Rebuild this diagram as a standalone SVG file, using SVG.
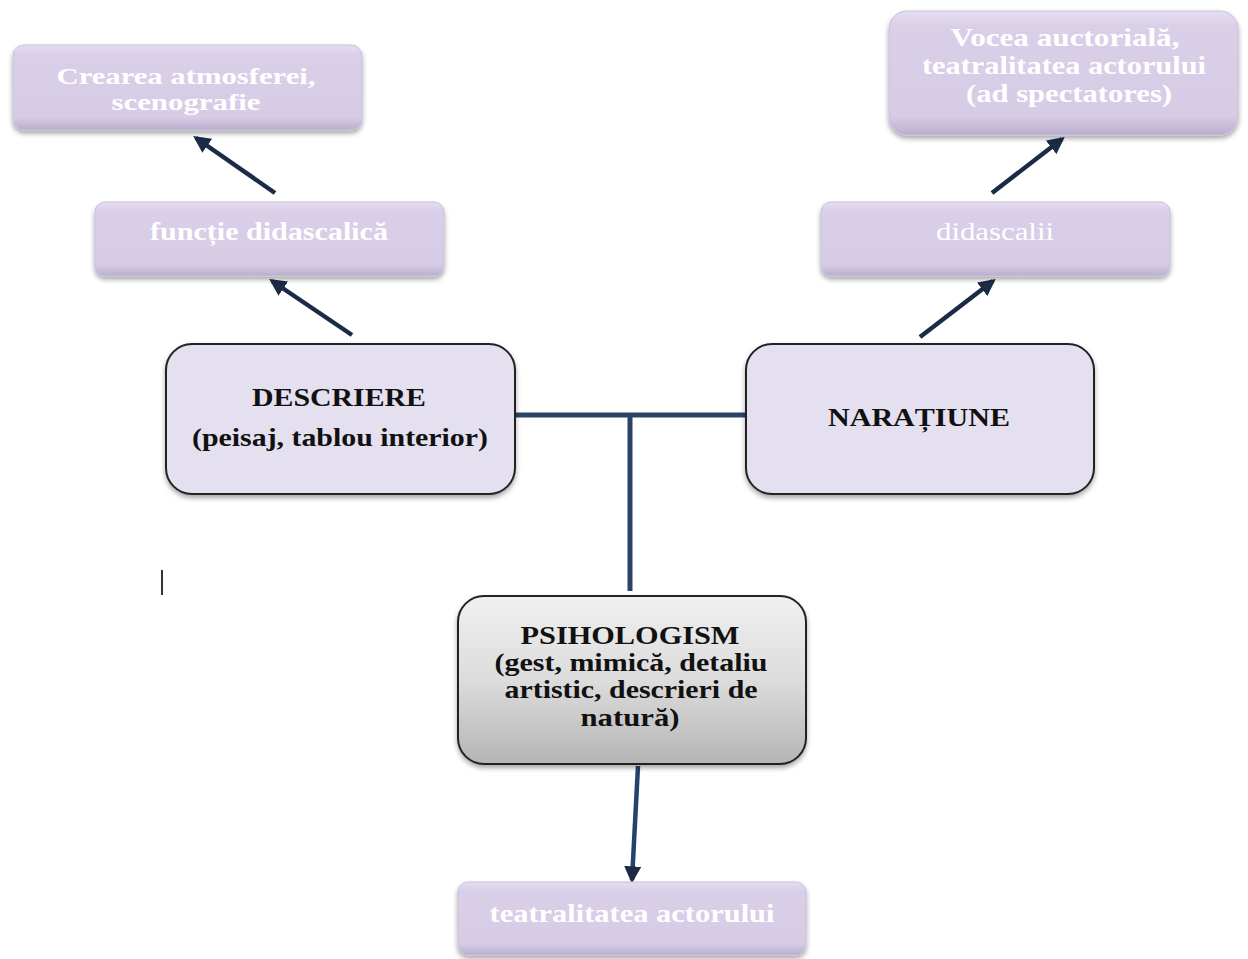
<svg xmlns="http://www.w3.org/2000/svg" width="1248" height="959" viewBox="0 0 1248 959">
<style>
.lav{fill:url(#lavg);stroke:#c9bfdc;stroke-width:1;filter:url(#sh)}
.main{fill:#e5e0ef;stroke:#222;stroke-width:2;filter:url(#sh)}
.gray{fill:url(#grayg);stroke:#222;stroke-width:2;filter:url(#sh)}
.wt{font-family:"Liberation Serif",serif;font-weight:bold;fill:#fff;text-anchor:middle;font-size:26px}
.bt{font-family:"Liberation Serif",serif;font-weight:bold;fill:#111;text-anchor:middle;font-size:26px}
.arr{stroke:#1b2a45;stroke-width:4.5;fill:none;marker-end:url(#ah)}
.ln{stroke:#2b4466;stroke-width:5;fill:none}
</style>
<defs>
<linearGradient id="lavg" x1="0" y1="0" x2="0" y2="1">
<stop offset="0" stop-color="#e6def1"/>
<stop offset="0.12" stop-color="#d9cfe8"/>
<stop offset="0.85" stop-color="#d6cce6"/>
<stop offset="1" stop-color="#b9aecd"/>
</linearGradient>
<linearGradient id="grayg" x1="0" y1="0" x2="0" y2="1">
<stop offset="0" stop-color="#f0f0f0"/>
<stop offset="0.5" stop-color="#dcdcdc"/>
<stop offset="1" stop-color="#b5b5b5"/>
</linearGradient>
<filter id="sh" x="-10%" y="-10%" width="120%" height="130%">
<feDropShadow dx="0" dy="3" stdDeviation="2.5" flood-color="#000" flood-opacity="0.35"/>
</filter>
<marker id="ah" viewBox="0 0 10 10" refX="8" refY="5" markerWidth="3.8" markerHeight="3.8" orient="auto" markerUnits="strokeWidth">
<path d="M0,0 L10,5 L0,10 Z" fill="#1b2a45"/>
</marker>
</defs>

<g id="connectors">
<line class="arr" x1="352" y1="335" x2="272" y2="281"/>
<line class="arr" x1="275" y1="193" x2="196" y2="138"/>
<line class="arr" x1="920" y1="337" x2="993" y2="281"/>
<line class="arr" x1="992" y1="193" x2="1062" y2="139"/>
<line class="ln" x1="515" y1="415" x2="746" y2="415"/>
<line class="ln" x1="630" y1="415" x2="630" y2="591"/>
<line class="arr" x1="638" y1="766" x2="632" y2="880" style="stroke:#24426a"/>
</g>

<g id="node-crearea">
<rect class="lav" x="13" y="45" width="349" height="85" rx="11"/>
<text class="wt" x="186" y="84" style="font-size:24px" textLength="259" lengthAdjust="spacingAndGlyphs">Crearea atmosferei,</text>
<text class="wt" x="186" y="110" style="font-size:24px" textLength="149" lengthAdjust="spacingAndGlyphs">scenografie</text>
</g>

<g id="node-functie">
<rect class="lav" x="95" y="202" width="349" height="74" rx="10"/>
<text class="wt" x="269" y="240" textLength="238" lengthAdjust="spacingAndGlyphs">funcție didascalică</text>
</g>

<g id="node-descriere">
<rect class="main" x="166" y="344" width="349" height="150" rx="26"/>
<text class="bt" x="339" y="406" textLength="174" lengthAdjust="spacingAndGlyphs">DESCRIERE</text>
<text class="bt" x="340" y="446" textLength="296" lengthAdjust="spacingAndGlyphs">(peisaj, tablou interior)</text>
</g>

<g id="node-naratiune">
<rect class="main" x="746" y="344" width="348" height="150" rx="26"/>
<text class="bt" x="919" y="426" textLength="182" lengthAdjust="spacingAndGlyphs">NARAȚIUNE</text>
</g>

<g id="node-vocea">
<rect class="lav" x="889" y="11" width="349" height="124" rx="18"/>
<text class="wt" x="1065" y="46" textLength="229" lengthAdjust="spacingAndGlyphs">Vocea auctorială,</text>
<text class="wt" x="1064" y="74" textLength="284" lengthAdjust="spacingAndGlyphs">teatralitatea actorului</text>
<text class="wt" x="1069" y="102" textLength="206" lengthAdjust="spacingAndGlyphs">(ad spectatores)</text>
</g>

<g id="node-didascalii">
<rect class="lav" x="821" y="202" width="349" height="74" rx="10"/>
<text class="wt" x="995" y="240" style="font-weight:normal" textLength="118" lengthAdjust="spacingAndGlyphs">didascalii</text>
</g>

<g id="node-psihologism">
<rect class="gray" x="458" y="596" width="348" height="168" rx="26"/>
<text class="bt" x="630" y="644" textLength="219" lengthAdjust="spacingAndGlyphs">PSIHOLOGISM</text>
<text class="bt" x="631" y="671" textLength="273" lengthAdjust="spacingAndGlyphs">(gest, mimică, detaliu</text>
<text class="bt" x="631" y="698" textLength="253" lengthAdjust="spacingAndGlyphs">artistic, descrieri de</text>
<text class="bt" x="630" y="726" textLength="99" lengthAdjust="spacingAndGlyphs">natură)</text>
</g>

<g id="node-teatralitatea">
<rect class="lav" x="458" y="882" width="348" height="73" rx="10"/>
<text class="wt" x="632" y="922" textLength="285" lengthAdjust="spacingAndGlyphs">teatralitatea actorului</text>
</g>

<rect x="161" y="570" width="2" height="25" fill="#333"/>
</svg>
